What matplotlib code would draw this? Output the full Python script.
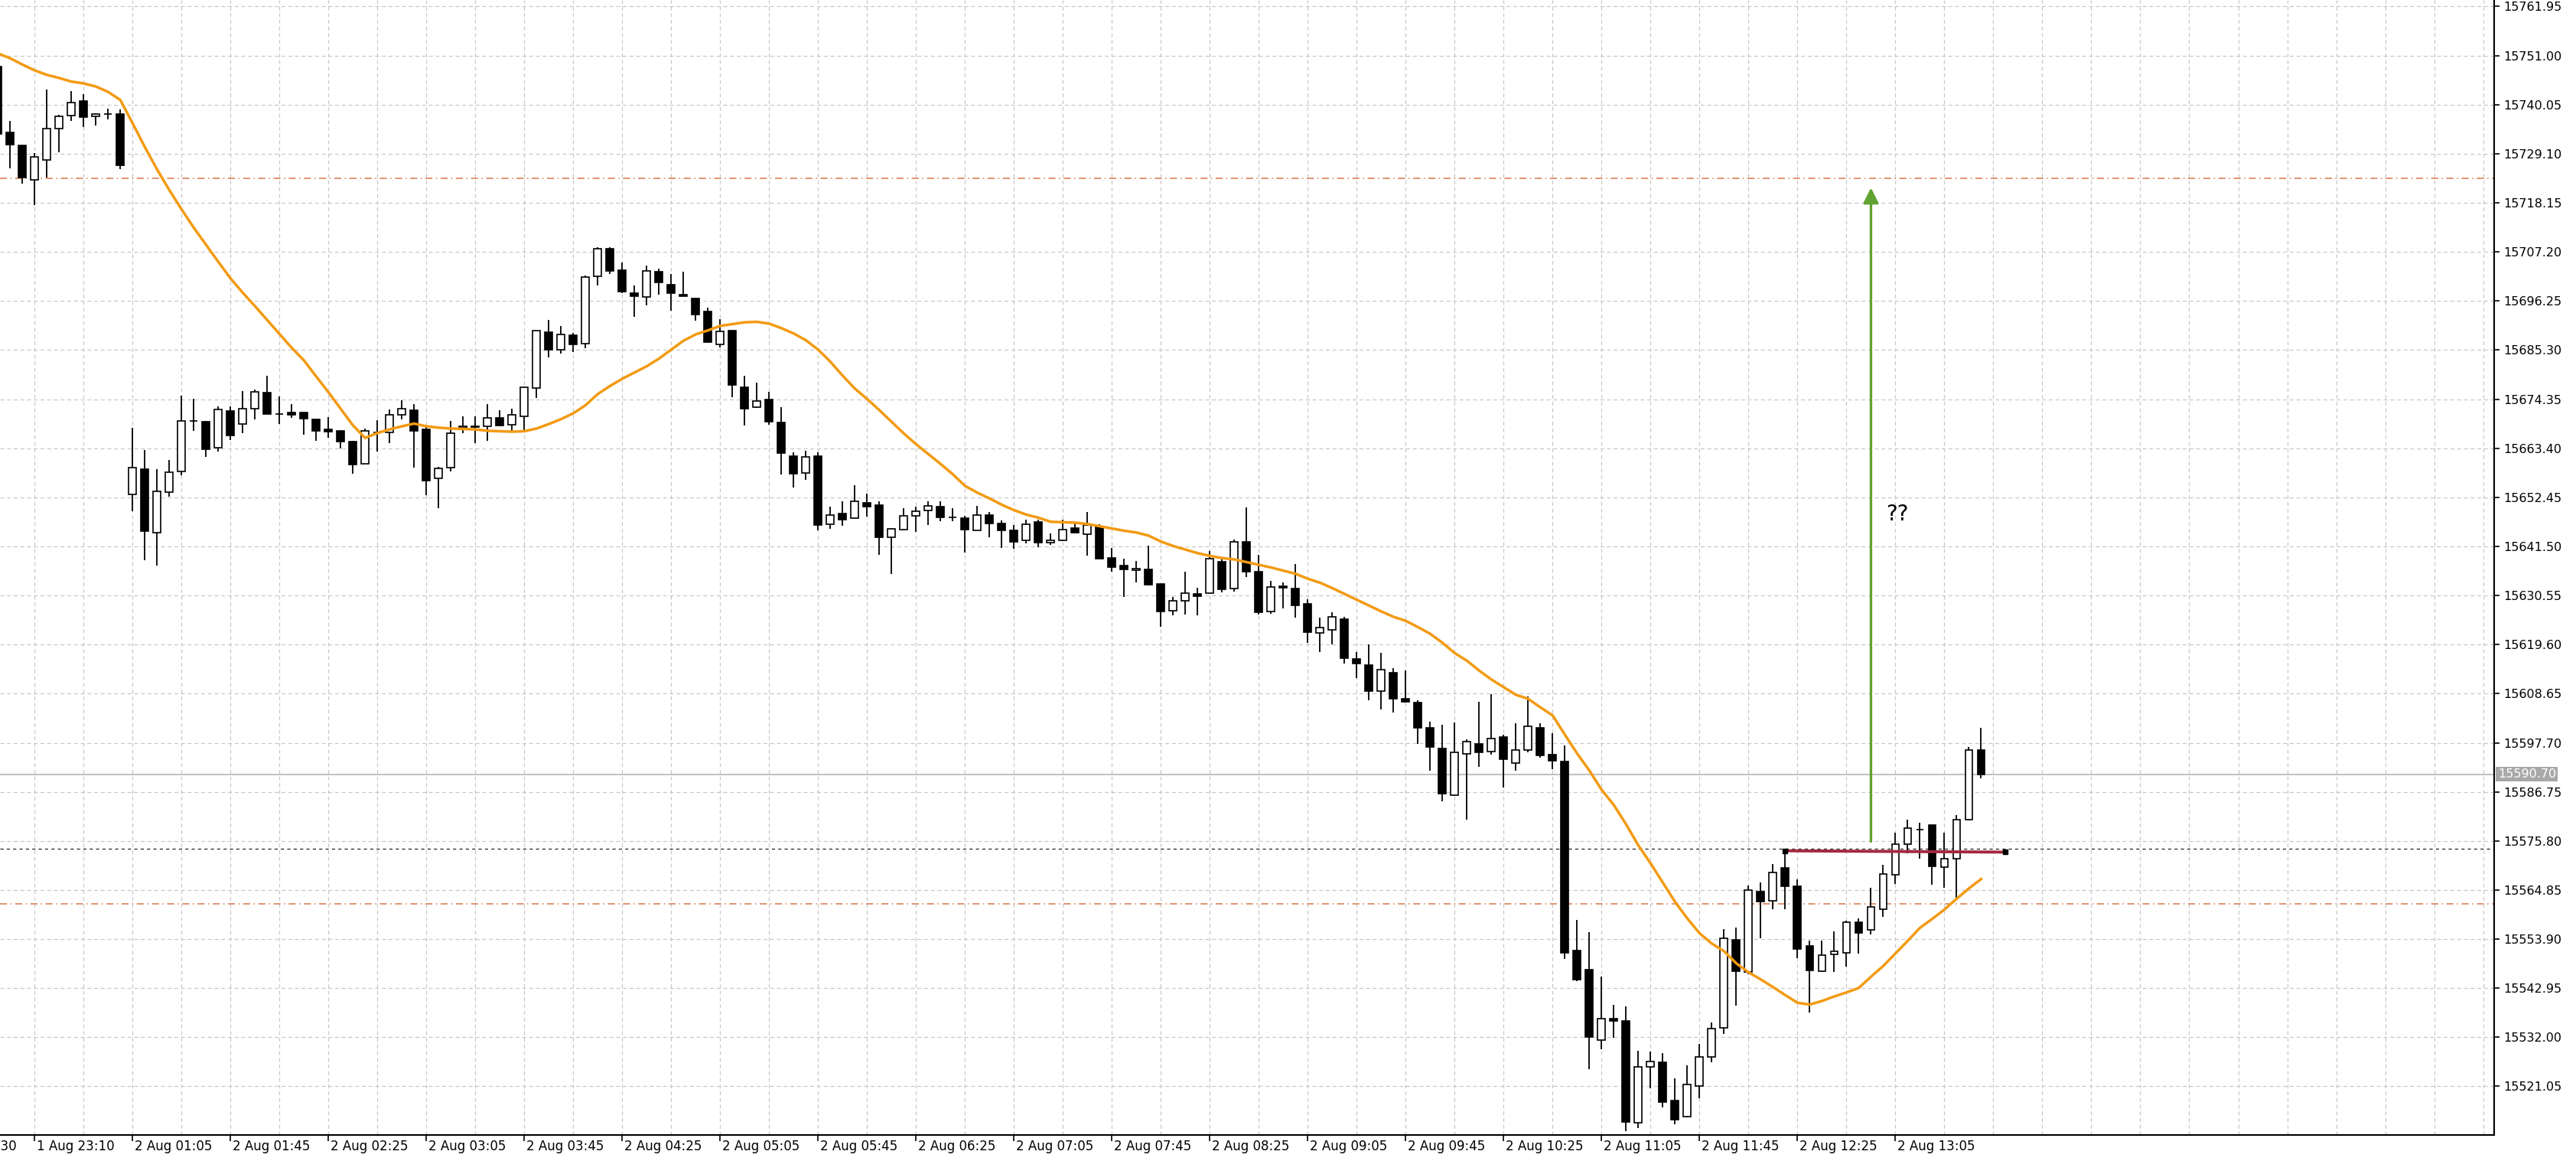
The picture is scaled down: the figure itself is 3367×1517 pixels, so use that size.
import matplotlib
matplotlib.use("Agg")
import matplotlib.pyplot as plt
from matplotlib.patches import Rectangle
from matplotlib.transforms import blended_transform_factory

# OHLC of the 5-minute bars (bar 0 is the cut one at the left edge)
opens = [15748.5, 15733.8, 15730.9, 15723.2, 15727.7, 15734.7, 15737.6, 15740.8, 15737.4, 15737.9,
         15738.0, 15653.1, 15658.7, 15644.5, 15653.6, 15658.2, 15669.5, 15669.4, 15663.6, 15671.7,
         15668.8, 15672.3, 15675.8, 15671.1, 15671.3, 15671.3, 15669.9, 15667.6, 15667.2, 15664.9,
         15660.0, 15666.9, 15667.0, 15670.8, 15671.9, 15667.6, 15656.7, 15659.0, 15667.9, 15668.3,
         15668.3, 15670.1, 15668.6, 15670.6, 15676.9, 15689.3, 15685.4, 15688.6, 15686.7, 15701.7,
         15707.9, 15703.2, 15698.0, 15697.2, 15702.8, 15699.9, 15697.7, 15696.8, 15693.9, 15686.6,
         15689.6, 15677.0, 15672.5, 15674.3, 15669.1, 15661.7, 15657.9, 15661.7, 15646.5, 15648.8,
         15647.8, 15651.2, 15650.8, 15643.6, 15645.2, 15648.3, 15649.6, 15650.3, 15648.0, 15647.8,
         15645.1, 15648.5, 15646.7, 15645.0, 15642.8, 15646.9, 15642.4, 15642.8, 15645.6, 15644.3,
         15646.0, 15639.0, 15637.2, 15636.2, 15636.3, 15633.2, 15627.2, 15629.3, 15630.9, 15631.0,
         15638.0, 15632.1, 15642.6, 15635.9, 15626.9, 15632.6, 15632.1, 15628.7, 15622.2, 15622.9,
         15625.3, 15616.4, 15615.0, 15609.3, 15613.3, 15607.5, 15606.6, 15601.1, 15596.4, 15586.0,
         15595.2, 15597.5, 15595.8, 15599.0, 15593.2, 15596.1, 15601.1, 15595.1, 15593.6, 15551.4,
         15547.0, 15531.4, 15536.1, 15535.7, 15512.9, 15525.4, 15526.5, 15517.9, 15514.3, 15521.2,
         15527.7, 15534.1, 15553.7, 15546.5, 15564.5, 15562.5, 15569.8, 15565.7, 15552.3, 15546.7,
         15550.5, 15550.9, 15557.7, 15555.9, 15560.6, 15568.2, 15575.1, 15578.3, 15579.3, 15569.9,
         15571.8, 15580.5, 15596.1]
highs = [15750.5, 15736.4, 15731.0, 15729.2, 15743.5, 15737.8, 15743.0, 15742.4, 15738.2, 15739.2,
         15738.9, 15668.0, 15663.0, 15658.8, 15660.8, 15675.1, 15674.5, 15669.5, 15672.7, 15672.7,
         15676.1, 15676.5, 15679.5, 15675.0, 15673.3, 15671.4, 15670.0, 15670.3, 15667.3, 15665.0,
         15667.8, 15669.6, 15672.0, 15674.1, 15673.3, 15668.5, 15659.3, 15669.5, 15670.5, 15670.6,
         15673.2, 15671.9, 15672.3, 15677.1, 15689.7, 15692.0, 15690.6, 15689.1, 15702.0, 15708.3,
         15708.3, 15704.9, 15699.7, 15704.1, 15703.4, 15702.2, 15702.8, 15696.9, 15694.8, 15692.2,
         15689.8, 15679.6, 15678.0, 15676.0, 15672.5, 15662.5, 15662.9, 15662.5, 15650.3, 15651.5,
         15655.2, 15653.2, 15651.5, 15645.6, 15650.1, 15650.4, 15651.5, 15651.6, 15650.1, 15648.4,
         15650.5, 15649.1, 15647.3, 15646.2, 15647.5, 15647.4, 15644.4, 15647.4, 15647.0, 15649.1,
         15646.4, 15641.2, 15638.8, 15638.3, 15641.6, 15633.2, 15630.3, 15635.8, 15632.3, 15640.4,
         15638.9, 15643.0, 15650.2, 15639.6, 15633.8, 15633.4, 15637.5, 15629.7, 15625.6, 15626.8,
         15625.8, 15618.0, 15619.6, 15617.7, 15614.3, 15613.8, 15607.2, 15602.4, 15601.8, 15602.3,
         15598.4, 15606.9, 15608.6, 15599.5, 15602.1, 15608.1, 15602.1, 15599.8, 15597.1, 15558.1,
         15555.4, 15545.5, 15539.2, 15538.9, 15529.0, 15528.8, 15528.5, 15522.8, 15525.7, 15530.6,
         15535.3, 15556.1, 15556.5, 15565.9, 15566.5, 15570.7, 15573.5, 15567.2, 15553.5, 15553.6,
         15555.6, 15558.0, 15558.5, 15565.4, 15570.5, 15577.6, 15580.5, 15579.9, 15579.3, 15577.7,
         15581.6, 15596.8, 15601.0]
lows = [15732.8, 15725.8, 15722.5, 15717.7, 15723.8, 15729.4, 15736.5, 15735.1, 15735.4, 15736.8,
        15725.6, 15649.3, 15638.4, 15637.3, 15652.6, 15657.3, 15667.2, 15661.5, 15662.6, 15665.3,
        15666.8, 15669.9, 15671.0, 15668.8, 15670.1, 15666.5, 15665.0, 15665.7, 15663.3, 15657.7,
        15659.9, 15662.7, 15664.5, 15669.9, 15659.0, 15652.9, 15650.1, 15658.2, 15666.8, 15664.6,
        15665.1, 15668.4, 15667.2, 15667.2, 15674.7, 15683.7, 15684.6, 15684.9, 15685.7, 15699.8,
        15702.2, 15698.0, 15692.7, 15695.2, 15697.7, 15694.0, 15697.3, 15691.8, 15686.9, 15685.9,
        15674.8, 15668.4, 15672.4, 15668.7, 15657.5, 15654.6, 15656.4, 15645.1, 15645.5, 15646.1,
        15647.6, 15648.2, 15639.7, 15635.4, 15645.0, 15644.7, 15646.2, 15647.2, 15647.2, 15640.1,
        15645.0, 15643.6, 15641.2, 15641.0, 15642.2, 15641.3, 15641.9, 15642.7, 15644.4, 15639.5,
        15638.7, 15635.9, 15630.2, 15633.5, 15632.8, 15623.5, 15626.2, 15626.3, 15626.2, 15630.9,
        15631.2, 15631.5, 15634.6, 15626.3, 15626.4, 15627.7, 15625.6, 15619.9, 15618.0, 15619.6,
        15615.3, 15612.2, 15607.2, 15605.2, 15604.4, 15606.6, 15597.4, 15591.5, 15584.7, 15585.9,
        15580.5, 15592.3, 15595.1, 15587.7, 15591.5, 15595.5, 15594.3, 15591.8, 15549.4, 15544.5,
        15524.9, 15529.4, 15531.9, 15511.1, 15511.7, 15520.6, 15516.3, 15512.6, 15514.2, 15518.4,
        15526.4, 15532.8, 15539.0, 15546.1, 15554.1, 15560.5, 15560.5, 15549.6, 15537.5, 15546.5,
        15546.5, 15547.8, 15550.7, 15554.9, 15558.8, 15566.2, 15573.0, 15571.9, 15566.1, 15565.4,
        15563.1, 15580.4, 15589.7]
closes = [15733.6, 15731.1, 15723.8, 15728.4, 15734.8, 15737.4, 15740.6, 15737.3, 15738.0, 15737.9,
          15726.6, 15659.0, 15644.9, 15653.8, 15658.1, 15669.5, 15669.5, 15663.2, 15672.0, 15666.3,
          15672.3, 15675.9, 15671.0, 15671.1, 15670.9, 15670.0, 15667.2, 15667.1, 15664.9, 15659.7,
          15667.2, 15666.9, 15670.9, 15672.2, 15667.3, 15656.2, 15658.9, 15666.8, 15668.3, 15668.1,
          15670.2, 15668.5, 15670.8, 15677.0, 15689.6, 15685.3, 15688.8, 15686.6, 15701.6, 15707.9,
          15703.0, 15698.3, 15697.4, 15702.9, 15700.4, 15698.0, 15697.4, 15693.3, 15687.0, 15689.4,
          15677.6, 15672.2, 15674.0, 15669.3, 15662.3, 15657.7, 15661.5, 15646.3, 15648.5, 15647.5,
          15651.5, 15650.3, 15643.5, 15645.5, 15648.4, 15649.3, 15650.5, 15647.9, 15647.9, 15645.2,
          15648.5, 15646.7, 15645.0, 15642.5, 15646.5, 15642.4, 15642.9, 15645.3, 15644.5, 15646.2,
          15638.8, 15636.9, 15636.4, 15636.6, 15632.9, 15627.0, 15629.3, 15631.0, 15630.4, 15638.7,
          15632.0, 15642.6, 15635.8, 15626.8, 15632.4, 15632.2, 15628.4, 15622.3, 15623.4, 15625.8,
          15616.5, 15615.3, 15609.3, 15614.0, 15607.6, 15606.9, 15601.1, 15596.7, 15586.3, 15595.6,
          15597.9, 15595.6, 15598.6, 15594.0, 15596.0, 15601.3, 15594.9, 15593.7, 15550.9, 15544.9,
          15532.1, 15536.1, 15535.6, 15513.1, 15525.4, 15526.6, 15517.5, 15513.6, 15521.5, 15527.6,
          15534.0, 15554.0, 15546.7, 15564.9, 15562.2, 15568.7, 15565.7, 15551.7, 15546.9, 15550.4,
          15551.2, 15557.6, 15555.2, 15561.1, 15568.4, 15575.0, 15578.7, 15578.3, 15570.2, 15571.9,
          15580.5, 15596.1, 15590.7]

# moving average (orange line), one reading per bar
ma_values = [15751.5, 15750.4, 15749.0, 15747.7, 15746.7, 15746.0, 15745.2, 15744.8, 15744.1, 15742.9,
             15741.1, 15735.9, 15730.6, 15725.6, 15721.0, 15716.7, 15712.6, 15708.8, 15705.0, 15701.3,
             15698.1, 15695.1, 15692.0, 15688.9, 15685.8, 15683.0, 15679.4, 15675.9, 15672.2, 15668.5,
             15665.7, 15666.8, 15667.6, 15668.3, 15668.9, 15668.3, 15668.0, 15667.8, 15667.7, 15667.6,
             15667.3, 15667.2, 15667.1, 15667.2, 15667.8, 15668.8, 15669.9, 15671.2, 15673.0, 15675.5,
             15677.3, 15678.9, 15680.3, 15681.7, 15683.4, 15685.4, 15687.4, 15688.8, 15689.7, 15690.7,
             15691.1, 15691.5, 15691.6, 15691.2, 15690.2, 15689.0, 15687.5, 15685.4, 15682.7, 15679.6,
             15676.7, 15674.4, 15671.9, 15669.3, 15666.7, 15664.3, 15662.1, 15659.9, 15657.6, 15655.0,
             15653.5, 15652.2, 15650.8, 15649.6, 15648.6, 15647.9, 15647.0, 15646.9, 15646.8, 15646.5,
             15646.0, 15645.5, 15645.0, 15644.6, 15643.9, 15642.6, 15641.6, 15640.8, 15640.0, 15639.4,
             15638.9, 15638.6, 15638.0, 15637.4, 15636.8, 15636.1, 15635.4, 15634.3, 15633.4, 15632.2,
             15630.9, 15629.6, 15628.3, 15627.0, 15625.8, 15624.9, 15623.5, 15622.0, 15620.0, 15617.7,
             15616.0, 15613.8, 15611.8, 15610.1, 15608.4, 15607.5, 15605.6, 15603.8, 15599.5, 15595.3,
             15591.5, 15587.2, 15583.8, 15579.5, 15574.8, 15570.8, 15566.5, 15562.2, 15558.5, 15555.2,
             15552.9, 15551.2, 15548.5, 15546.5, 15544.9, 15543.2, 15541.4, 15539.7, 15539.3, 15540.1,
             15541.1, 15542.0, 15543.0, 15545.5, 15547.9, 15550.7, 15553.5, 15556.4, 15558.4, 15560.5,
             15562.9, 15565.2, 15567.3]

# time labels every 8 bars, the first one (bar -5) is cut by the left edge
time_labels = ["1 Aug 22:30", "1 Aug 23:10", "2 Aug 01:05", "2 Aug 01:45", "2 Aug 02:25",
               "2 Aug 03:05", "2 Aug 03:45", "2 Aug 04:25", "2 Aug 05:05", "2 Aug 05:45",
               "2 Aug 06:25", "2 Aug 07:05", "2 Aug 07:45", "2 Aug 08:25", "2 Aug 09:05",
               "2 Aug 09:45", "2 Aug 10:25", "2 Aug 11:05", "2 Aug 11:45", "2 Aug 12:25",
               "2 Aug 13:05"]
price_ticks = [15761.95, 15751.00, 15740.05, 15729.10, 15718.15, 15707.20, 15696.25, 15685.30,
               15674.35, 15663.40, 15652.45, 15641.50, 15630.55, 15619.60, 15608.65, 15597.70,
               15586.75, 15575.80, 15564.85, 15553.90, 15542.95, 15532.00, 15521.05]

last_price = 15590.70
dashed_level = 15574.0
dashdot_levels = [15723.7, 15561.7]
red_line_bars = [146, 164]
red_line_prices = [15573.6, 15573.3]
arrow_bar = 153
arrow_from, arrow_to = 15575.2, 15722.0

fig = plt.figure(figsize=(33.67, 15.17), dpi=100)
ax = fig.add_axes([0.0, 0.0224, 0.9682, 0.9776])
ax.set_xlim(0.17, 203.9)
ax.set_ylim(15510.2, 15763.4)

grid_kw = dict(color="#c8c8c8", linestyle=(0, (4, 3)), linewidth=0.9)
for p in price_ticks:
    ax.axhline(p, zorder=0, **grid_kw)
for b in range(3, 204, 4):
    ax.axvline(b, zorder=0, **grid_kw)

# level lines
ax.axhline(last_price, color="#b4b4b4", lw=1.2, zorder=1)
ax.axhline(dashed_level, color="#333333", lw=1.0, linestyle=(0, (3, 3)), zorder=1)
for lv in dashdot_levels:
    ax.axhline(lv, color="#d9784a", lw=1.1, linestyle=(0, (6, 3, 1, 3)), zorder=1)

# candles
for i in range(len(opens)):
    o, h, l, c = opens[i], highs[i], lows[i], closes[i]
    ax.plot([i, i], [l, h], color="black", lw=1.3, zorder=2, solid_capstyle="butt")
    face = "white" if c >= o else "black"
    ax.add_patch(Rectangle((i - 0.31, min(o, c)), 0.62, abs(c - o),
                           facecolor=face, edgecolor="black", lw=1.2, zorder=3))

ax.plot(range(len(ma_values)), ma_values, color="#f39a12", lw=2.5, zorder=4)

# annotations
ax.plot(red_line_bars, red_line_prices, color="#a3283f", lw=2.8, zorder=5)
ax.plot(red_line_bars, red_line_prices, "s", color="black", ms=5, zorder=6)
ax.annotate("", xy=(arrow_bar, arrow_to), xytext=(arrow_bar, arrow_from),
            arrowprops=dict(arrowstyle="-|>", color="#62a233", lw=2.4, mutation_scale=30),
            zorder=6)
ax.text(154.2, 15648.7, "??", fontsize=20, ha="left", va="center", color="black")

# axes look
for side in ["top", "left"]:
    ax.spines[side].set_visible(False)
ax.spines["right"].set_linewidth(1.5)
ax.spines["bottom"].set_linewidth(1.5)

ax.yaxis.tick_right()
ax.set_yticks(price_ticks)
ax.set_yticklabels([f"{p:.2f}" for p in price_ticks], fontsize=11.5)
ax.tick_params(axis="y", length=5, width=1.2, pad=4)

label_bars = list(range(-5, 156, 8))
ax.set_xticks(label_bars[1:])
ax.set_xticklabels([])
ax.tick_params(axis="x", length=6, width=1.2)
blend = blended_transform_factory(ax.transData, ax.transAxes)
for b, lab in zip(label_bars, time_labels):
    ax.text(b + 0.15, -0.004, lab, transform=blend, ha="left", va="top",
            fontsize=12, clip_on=False)

ax.text(1.0015, last_price, "15590.70", transform=blended_transform_factory(ax.transAxes, ax.transData),
        ha="left", va="center", fontsize=11.5, color="white", zorder=10,
        bbox=dict(boxstyle="square,pad=0.15", facecolor="#a8a8a8", edgecolor="none"))

fig.savefig("out.png", dpi=100, facecolor="white")
